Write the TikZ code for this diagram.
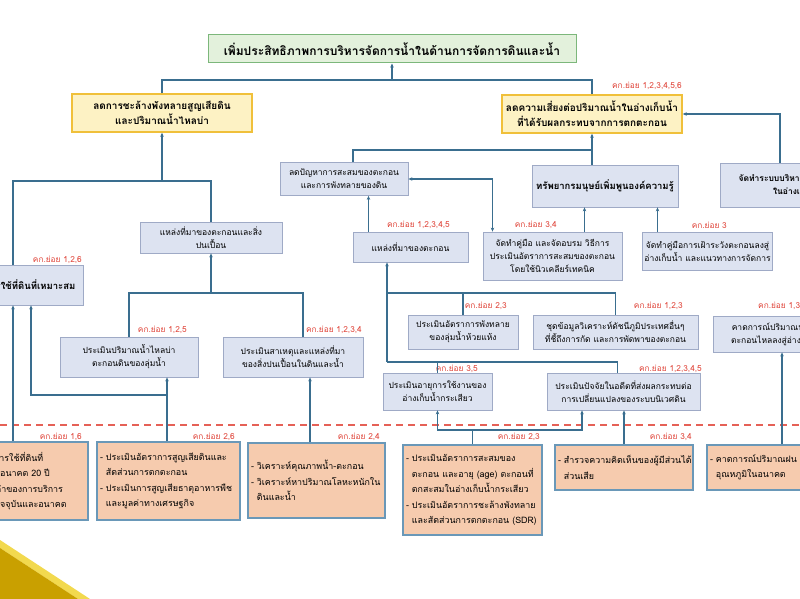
\documentclass[tikz,border=0pt]{standalone}
\usepackage{fontspec}
\setmainfont[Script=Thai]{Loma}
\usetikzlibrary{arrows.meta,calc}
\definecolor{ln}{HTML}{3A6E8F}
\definecolor{bxf}{HTML}{DDE3F1}
\definecolor{bxd}{HTML}{9FAAC6}
\definecolor{ybf}{HTML}{FDF2C4}
\definecolor{ybd}{HTML}{F0C03A}
\definecolor{tbf}{HTML}{E3F1DC}
\definecolor{tbd}{HTML}{7CB77B}
\definecolor{obf}{HTML}{F6CBAE}
\definecolor{obd}{HTML}{6A98B8}
\definecolor{lbr}{HTML}{E0453A}
\definecolor{gold}{HTML}{C9A000}
\definecolor{goldl}{HTML}{F2D94E}
\newcommand{\bl}[1]{\mbox{- #1}}
\newcommand{\cl}[1]{\mbox{\phantom{- }#1}}
\begin{document}
\begin{tikzpicture}[x=1pt,y=-1pt,
  bx/.style={draw=bxd, fill=bxf, line width=0.8pt, align=center, inner sep=2pt, font=\fontsize{8.5}{13}\selectfont},
  yb/.style={draw=ybd, fill=ybf, line width=1.4pt, align=center, inner sep=2pt, font=\bfseries\fontsize{10}{15}\selectfont},
  tb/.style={draw=tbd, fill=tbf, line width=1pt, align=center, inner sep=2pt, font=\bfseries\fontsize{12}{14}\selectfont},
  ob/.style={draw=obd, fill=obf, line width=1.2pt, align=left, inner sep=3pt, font=\fontsize{8.9}{15.5}\selectfont},
  lbl/.style={text=lbr, font=\fontsize{8.3}{9}\selectfont, inner sep=0pt},
  cn/.style={draw=ln, line width=1.1pt},
  arr/.style={-{Stealth[length=4pt,width=3.5pt]}},
  arrb/.style={{Stealth[length=4pt,width=3.5pt]}-{Stealth[length=4pt,width=3.5pt]}}]
\useasboundingbox (0,0) rectangle (800,599);
\clip (0,0) rectangle (800,599);
\fill[white] (0,0) rectangle (800,599);

% decoration bottom-left
\fill[goldl] (0,540) -- (90,599) -- (78,599) -- (0,548) -- cycle;
\fill[gold] (0,548) -- (78,599) -- (0,599) -- cycle;

% dashed separator
\draw[lbr!85!white, line width=1.2pt, dash pattern=on 7pt off 5pt] (0,425) -- (800,425);

% nodes
\node[tb, minimum width=368pt, minimum height=28pt] (T) at (392,49) {เพิ่มประสิทธิภาพการบริหารจัดการน้ำในด้านการจัดการดินและน้ำ};
\node[yb, minimum width=180pt, minimum height=38pt] (LY) at (162,113) {ลดการชะล้างพังทลายสูญเสียดิน\\และปริมาณน้ำไหลบ่า};
\node[yb, minimum width=180pt, minimum height=38pt] (RY) at (592,114) {ลดความเสี่ยงต่อปริมาณน้ำในอ่างเก็บน้ำ\\ที่ได้รับผลกระทบจากการตกตะกอน};
\node[bx, minimum width=128pt, minimum height=33pt] (LP) at (344,179) {ลดปัญหาการสะสมของตะกอน\\และการพังทลายของดิน};
\node[bx, minimum width=146pt, minimum height=42pt, font=\bfseries\fontsize{9.5}{13}\selectfont] (TR) at (605,186) {ทรัพยากรมนุษย์เพิ่มพูนองค์ความรู้};
\node[bx, minimum width=154pt, minimum height=44pt, font=\bfseries\fontsize{8.5}{13}\selectfont] (JR) at (797,185) {จัดทำระบบบริหารจัดการตะกอน\\ในอ่างเก็บน้ำ};
\node[bx, minimum width=142pt, minimum height=31pt] (SC) at (211,237.5) {แหล่งที่มาของตะกอนและสิ่ง\\ปนเปื้อน};
\node[bx, minimum width=106pt, minimum height=40pt, font=\bfseries\fontsize{9.5}{13}\selectfont] (LU) at (30,285) {การใช้ที่ดินที่เหมาะสม};
\node[bx, minimum width=115pt, minimum height=30pt] (SO) at (410.5,247) {แหล่งที่มาของตะกอน};
\node[bx, minimum width=139pt, minimum height=48pt] (JA) at (552.5,256) {จัดทำคู่มือ และจัดอบรม วิธีการ\\ประเมินอัตราการสะสมของตะกอน\\โดยใช้นิวเคลียร์เทคนิค};
\node[bx, minimum width=119pt, minimum height=38pt] (JW) at (707.5,251) {จัดทำคู่มือการเฝ้าระวังตะกอนลงสู่\\อ่างเก็บน้ำ และแนวทางการจัดการ};
\node[bx, minimum width=138pt, minimum height=40pt] (RF) at (129,357) {ประเมินปริมาณน้ำไหลบ่า\\ตะกอนดินของลุ่มน้ำ};
\node[bx, minimum width=140pt, minimum height=40pt] (CA) at (293,357) {ประเมินสาเหตุและแหล่งที่มา\\ของสิ่งปนเปื้อนในดินและน้ำ};
\node[bx, minimum width=110pt, minimum height=34pt] (ER) at (463,332) {ประเมินอัตราการพังทลาย\\ของลุ่มน้ำห้วยแห้ง};
\node[bx, minimum width=165pt, minimum height=34pt] (DS) at (615.5,332) {ชุดข้อมูลวิเคราะห์ดัชนีภูมิประเทศอื่นๆ\\ที่ชี้ถึงการกัด และการพัดพาของตะกอน};
\node[bx, minimum width=130pt, minimum height=36pt] (FC) at (778,334) {คาดการณ์ปริมาณน้ำและ\\ตะกอนไหลลงสู่อ่างเก็บน้ำ};
\node[bx, minimum width=109pt, minimum height=37pt] (RL) at (437.5,391.5) {ประเมินอายุการใช้งานของ\\อ่างเก็บน้ำกระเสียว};
\node[bx, minimum width=153pt, minimum height=37pt] (PF) at (623.5,391.5) {ประเมินปัจจัยในอดีตที่ส่งผลกระทบต่อ\\การเปลี่ยนแปลงของระบบนิเวศดิน};

\node[ob, text width=137pt, minimum height=78pt] (B1) at (16.5,481) {\bl{คาดการณ์การใช้ที่ดินที่}\\\cl{เหมาะสมในอนาคต 20 ปี}\\\bl{ประเมินมูลค่าของการบริการ}\\\cl{ระบบนิเวศปัจจุบันและอนาคต}};
\node[ob, text width=137pt, minimum height=78pt] (B2) at (168.5,481) {\bl{ประเมินอัตราการสูญเสียดินและ}\\\cl{สัดส่วนการตกตะกอน}\\\bl{ประเมินการสูญเสียธาตุอาหารพืช}\\\cl{และมูลค่าทางเศรษฐกิจ}};
\node[ob, text width=131pt, minimum height=75pt] (B3) at (316.5,480.5) {\bl{วิเคราะห์คุณภาพน้ำ-ตะกอน}\\\bl{วิเคราะห์หาปริมาณโลหะหนักใน}\\\cl{ดินและน้ำ}\\[12pt]};
\node[ob, text width=133pt, minimum height=90pt] (B4) at (472.5,490) {\bl{ประเมินอัตราการสะสมของ}\\\cl{ตะกอน และอายุ (age) ตะกอนที่}\\\cl{ตกสะสมในอ่างเก็บน้ำกระเสียว}\\\bl{ประเมินอัตราการชะล้างพังทลาย}\\\cl{และสัดส่วนการตกตะกอน (SDR)}};
\node[ob, text width=132pt, minimum height=45pt] (B5) at (624,467.5) {\bl{สำรวจความคิดเห็นของผู้มีส่วนได้}\\\cl{ส่วนเสีย}};
\node[ob, text width=134pt, minimum height=45pt] (B6) at (777,467.5) {\bl{คาดการณ์ปริมาณฝน และ}\\\cl{อุณหภูมิในอนาคต}};

% labels
\node[lbl, anchor=east] (l1) at (682,86) {คก.ย่อย 1,2,3,4,5,6};
\node[lbl, anchor=east] (l2) at (450,225) {คก.ย่อย 1,2,3,4,5};
\node[lbl, anchor=east] (l3) at (557,225) {คก.ย่อย 3,4};
\node[lbl, anchor=east] (l4) at (727,225) {คก.ย่อย 3};
\node[lbl, anchor=east] (l5) at (82,260) {คก.ย่อย 1,2,6};
\node[lbl, anchor=east] (l6) at (187,330) {คก.ย่อย 1,2,5};
\node[lbl, anchor=east] (l7) at (362,330) {คก.ย่อย 1,2,3,4};
\node[lbl, anchor=east] (l8) at (507,306) {คก.ย่อย 2,3};
\node[lbl, anchor=east] (l9) at (683,306) {คก.ย่อย 1,2,3};
\node[lbl, anchor=west] (l10) at (758,306) {คก.ย่อย 1,3};
\node[lbl, anchor=east] (l11) at (478,369) {คก.ย่อย 3,5};
\node[lbl, anchor=east] (l12) at (702,369) {คก.ย่อย 1,2,3,4,5};
\node[lbl, anchor=east] (l13) at (82,437) {คก.ย่อย 1,6};
\node[lbl, anchor=east] (l14) at (235,437) {คก.ย่อย 2,6};
\node[lbl, anchor=east] (l15) at (380,437) {คก.ย่อย 2,4};
\node[lbl, anchor=east] (l16) at (540,437) {คก.ย่อย 2,3};
\node[lbl, anchor=east] (l17) at (692,437) {คก.ย่อย 3,4};

% connectors
\coordinate (jT) at (392,80);
\draw[cn] (LY.north) |- (jT) -| (RY.north);
\draw[cn,arr] (jT) -- (T.south);

\coordinate (jR) at (592,150);
\draw[cn] ($(LP.north)+(9,0)$) |- (jR);
\draw[cn,arr] (TR.north -| jR) -- (RY.south);

\coordinate (jJ) at (780,113);
\draw[cn,arr] (JR.north -| jJ) |- (RY.east);

\coordinate (jL) at (162,181);
\draw[cn] ($(LU.north)+(-17,0)$) |- (jL) -| (SC.north);
\draw[cn,arr] (jL) -- (LY.south);

\draw[cn,arr] ($(SO.north)+(-42,0)$) coordinate (a1) -- (a1 |- LP.south);
\draw[cn,arrb] ($(JA.north)+(-60,0)$) |- (LP.east);
\draw[cn,arr] ($(JA.north)+(32,0)$) coordinate (a3) -- (a3 |- TR.south);
\draw[cn,arr] ($(JW.north)+(-50,0)$) coordinate (a4) -- (a4 |- TR.south);

\coordinate (jS) at (211,293);
\draw[cn] (RF.north) |- (jS) -| ($(CA.north)+(10,0)$);
\draw[cn,arr] (jS) -- (SC.south);

\coordinate (jO) at (387,293);
\coordinate (jO2) at (387,362);
\draw[cn,arr] (jO) -- (jO |- SO.south);
\draw[cn] (ER.north) |- (jO);
\draw[cn] (DS.north) |- (jO);
\draw[cn] (jO) -- (jO2);
\draw[cn] (RL.north) |- (jO2);
\draw[cn] ($(PF.north)+(-6,0)$) |- (jO2);

\draw[cn,arr] ($(B1.north)+(-3.5,0)$) coordinate (b1) -- (b1 |- LU.south);
\draw[cn,arr] ($(B2.north)+(-1.5,0)$) coordinate (b2) -- (b2 |- RF.south);
\coordinate (jB2) at (167,395);
\draw[cn,arr] (jB2) -| ($(LU.south)+(1,0)$);
\draw[cn,arr] ($(B3.north)+(-6.5,0)$) coordinate (b3) -- (b3 |- CA.south);
\coordinate (jB4) at (472.5,430);
\draw[cn] (B4.north) -- (jB4);
\draw[cn,arr] (jB4) -| (RL.south);
\draw[cn,arr] (jB4) -| ($(PF.south)+(-41.5,0)$);
\draw[cn,arr] (B5.north) -- (B5.north |- PF.south);
\draw[cn,arr] ($(B6.north)+(5,0)$) coordinate (b6) -- (b6 |- FC.south);
\end{tikzpicture}
\end{document}
